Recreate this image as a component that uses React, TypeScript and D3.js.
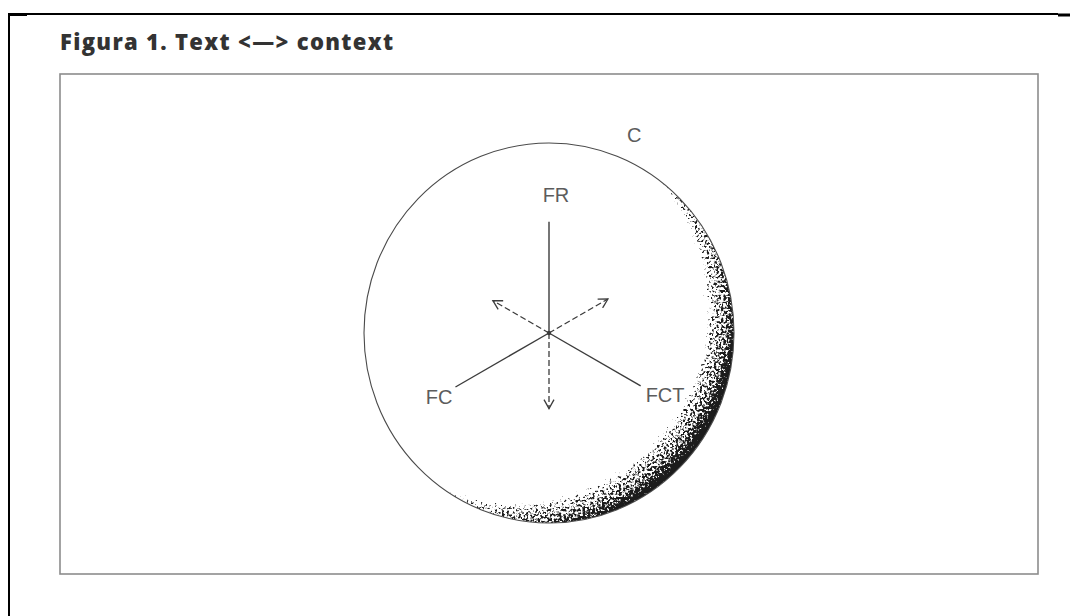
import * as d3 from "d3";

// diagram content
const title = "Figura 1. Text <—> context";
const boundaryLabel = "C";
const forceLabels = ["FR", "FC", "FCT"];
const forceAngles = [90, 210, 330]; // degrees, counter-clockwise from east
const forceMagnitudes = [1.03, 1.0, 0.98];
const reactionAngles = [150, 30, 270];
const reactionMagnitudes = [0.6, 0.63, 0.7];

const W = 1070;
const H = 616;
const cx = 549;
const cy = 333;
const rx = 185;
const ry = 190;

const lengthScale = d3.scaleLinear().domain([0, 1]).range([0, 108]);
const line = d3.line<[number, number]>();

const tip = (angle: number, mag: number): [number, number] => {
  const a = (angle * Math.PI) / 180;
  const r = lengthScale(mag);
  return [cx + r * Math.cos(a), cy - r * Math.sin(a)];
};

const INK = "#3c3c3c";
const LABEL = "#5c5c5c";

// gradient offset toward upper-left so the shade sits on the lower-right rim
const shadeAngle = (33 * Math.PI) / 180;
const shadeShift = 42;
const gx = cx - shadeShift * Math.cos(shadeAngle);
const gy = cy - shadeShift * Math.sin(shadeAngle);
const gr = 230;

export default function App() {
  const forces = forceLabels.map((label, i) => {
    const end = tip(forceAngles[i], forceMagnitudes[i]);
    const c = Math.cos((forceAngles[i] * Math.PI) / 180);
    let anchor = "middle";
    let lx = end[0] + 7;
    let ly = end[1] - 20;
    if (c < -0.1) {
      anchor = "end";
      lx = end[0] - 3;
      ly = end[1] + 17;
    } else if (c > 0.1) {
      anchor = "start";
      lx = end[0] + 5;
      ly = end[1] + 16;
    }
    return { label, end, anchor, lx, ly };
  });

  const reactions = reactionAngles.map((a, i) => tip(a, reactionMagnitudes[i]));

  return (
    <svg
      width={W}
      height={H}
      style={{ position: "absolute", left: 0, top: 0, background: "#fff" }}
    >
      <defs>
        <radialGradient
          id="rim"
          gradientUnits="userSpaceOnUse"
          cx={gx}
          cy={gy}
          r={gr}
        >
          <stop offset="0.815" stopColor="#000" stopOpacity={0} />
          <stop offset="0.86" stopColor="#000" stopOpacity={0.44} />
          <stop offset="0.93" stopColor="#000" stopOpacity={0.58} />
          <stop offset="0.975" stopColor="#000" stopOpacity={0.82} />
          <stop offset="1" stopColor="#000" stopOpacity={1} />
        </radialGradient>
        <filter id="stipple" x="-5%" y="-5%" width="110%" height="110%">
          <feTurbulence
            type="fractalNoise"
            baseFrequency="0.42"
            numOctaves={2}
            seed={7}
            result="noise"
          />
          <feColorMatrix
            in="noise"
            type="matrix"
            values="0 0 0 0 0  0 0 0 0 0  0 0 0 0 0  0 0 0 1 0"
            result="noiseA"
          />
          <feColorMatrix
            in="SourceGraphic"
            type="matrix"
            values="0 0 0 0 0  0 0 0 0 0  0 0 0 0 0  0 0 0 1 0"
            result="srcA"
          />
          <feComposite
            in="srcA"
            in2="noiseA"
            operator="arithmetic"
            k1={0}
            k2={6}
            k3={-6}
            k4={0.1}
            result="mask"
          />
          <feFlood floodColor="#1a1a1a" result="ink" />
          <feComposite in="ink" in2="mask" operator="in" />
        </filter>
        <marker
          id="open-arrow"
          viewBox="0 -6 12 12"
          refX={10}
          refY={0}
          markerUnits="userSpaceOnUse"
          markerWidth={12}
          markerHeight={12}
          orient="auto"
        >
          <path d="M1,-5 L10,0 L1,5" fill="none" stroke={INK} strokeWidth={1.3} />
        </marker>
      </defs>

      {/* page frame */}
      <g stroke="#000" fill="none">
        <line x1={8} y1={14} x2={1058} y2={14} strokeWidth={2} />
        <line x1={1058} y1={15} x2={1070} y2={15} strokeWidth={3} />
        <line x1={8} y1={14.5} x2={27} y2={14.5} strokeWidth={3} />
        <line x1={9} y1={13} x2={9} y2={616} strokeWidth={2} />
      </g>

      <text
        x={60}
        y={50}
        fontFamily="'Open Sans', Lato, sans-serif"
        fontWeight={800}
        fontSize={22}
        fill="#333"
        textLength={333}
        lengthAdjust="spacing"
      >
        {title}
      </text>

      <rect
        x={60}
        y={74}
        width={978}
        height={500}
        fill="none"
        stroke="#8c8c8c"
        strokeWidth={1.6}
      />

      {/* shaded sphere */}
      <ellipse cx={cx} cy={cy} rx={rx} ry={ry} fill="url(#rim)" filter="url(#stipple)" />
      <ellipse
        cx={cx}
        cy={cy}
        rx={rx}
        ry={ry}
        fill="none"
        stroke="#4a4a4a"
        strokeWidth={1.1}
      />

      {/* reactions (dashed arrows) */}
      <g fill="none" stroke={INK} strokeWidth={1.3} strokeDasharray="6 3">
        {reactions.map((p, i) => (
          <path key={i} d={line([[cx, cy], p]) ?? ""} markerEnd="url(#open-arrow)" />
        ))}
      </g>

      {/* forces (solid lines) */}
      <g fill="none" stroke={INK} strokeWidth={1.4}>
        {forces.map((f) => (
          <path key={f.label} d={line([[cx, cy], f.end]) ?? ""} />
        ))}
      </g>
      <circle cx={cx} cy={cy} r={2.2} fill={INK} />

      <g fontFamily="'Liberation Sans', Arial, sans-serif" fontSize={20} fill={LABEL}>
        {forces.map((f) => (
          <text key={f.label} x={f.lx} y={f.ly} textAnchor={f.anchor}>
            {f.label}
          </text>
        ))}
        <text x={627} y={142}>
          {boundaryLabel}
        </text>
      </g>
    </svg>
  );
}
